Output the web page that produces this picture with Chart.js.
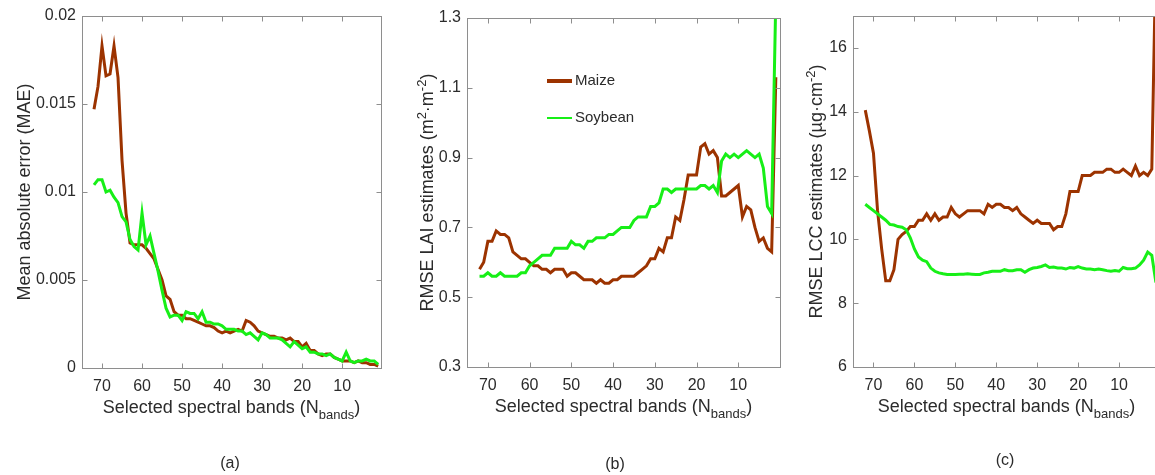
<!DOCTYPE html>
<html>
<head>
<meta charset="utf-8">
<script src="https://cdn.jsdelivr.net/npm/chart.js@4"></script>
<style>
  html, body { margin: 0; padding: 0; background: #fff; overflow: hidden; }
  #wrap { position: relative; width: 1155px; height: 475px; overflow: hidden; background: #fff; }
  #wrap canvas { position: absolute; top: 0; }
</style>
</head>
<body>
<div id="wrap">
  <canvas id="chartA" width="385" height="475" style="left:0px"></canvas>
  <canvas id="chartB" width="400" height="475" style="left:385px"></canvas>
  <canvas id="chartC" width="375" height="475" style="left:790px"></canvas>
</div>
<script>
// Number of selected bands, left to right (axis is reversed)
const bands = [72, 71, 70, 69, 68, 67, 66, 65, 64, 63,
               62, 61, 60, 59, 58, 57, 56, 55, 54, 53,
               52, 51, 50, 49, 48, 47, 46, 45, 44, 43,
               42, 41, 40, 39, 38, 37, 36, 35, 34, 33,
               32, 31, 30, 29, 28, 27, 26, 25, 24, 23,
               22, 21, 20, 19, 18, 17, 16, 15, 14, 13,
               12, 11, 10, 9, 8, 7, 6, 5, 4, 3,
               2, 1];

const xTicks = [70, 60, 50, 40, 30, 20, 10];

// (a) MAE
const maeMaize = [0.0147, 0.0160, 0.0183, 0.0166, 0.0167, 0.0183, 0.0165, 0.0118, 0.0088, 0.0071,
                  0.0070, 0.0070, 0.0070, 0.0068, 0.0065, 0.0062, 0.0056, 0.0050, 0.0041, 0.0039,
                  0.0032, 0.0030, 0.0030, 0.0028, 0.0028, 0.0027, 0.0026, 0.0025, 0.0024, 0.0024,
                  0.0023, 0.0021, 0.0020, 0.0021, 0.0020, 0.0021, 0.0022, 0.0021, 0.0027, 0.0026,
                  0.0024, 0.0021, 0.0020, 0.0019, 0.0018, 0.0018, 0.0017, 0.0017, 0.0016, 0.0017,
                  0.0015, 0.0015, 0.0012, 0.0014, 0.0010, 0.0010, 0.0008, 0.0007, 0.0008, 0.0008,
                  0.0006, 0.0005, 0.0004, 0.0004, 0.0004, 0.0003, 0.0004, 0.0003, 0.0003, 0.0002,
                  0.0002, 0.0001];
const maeSoy = [0.0104, 0.0107, 0.0107, 0.0100, 0.0101, 0.0097, 0.0094, 0.0086, 0.0083, 0.0073,
                0.0069, 0.0067, 0.0088, 0.0070, 0.0075, 0.0065, 0.0055, 0.0044, 0.0034, 0.0029,
                0.0030, 0.0030, 0.0027, 0.0032, 0.0031, 0.0031, 0.0028, 0.0032, 0.0026, 0.0026,
                0.0025, 0.0025, 0.0024, 0.0022, 0.0022, 0.0022, 0.0021, 0.0021, 0.0019, 0.0020,
                0.0018, 0.0016, 0.0020, 0.0019, 0.0017, 0.0017, 0.0017, 0.0016, 0.0014, 0.0012,
                0.0015, 0.0013, 0.0011, 0.0012, 0.0009, 0.0009, 0.0008, 0.0008, 0.0007, 0.0008,
                0.0006, 0.0005, 0.0004, 0.0009, 0.0004, 0.0003, 0.0004, 0.0004, 0.0005, 0.0004,
                0.0004, 0.0002];
const maeTicks = [0, 0.005, 0.01, 0.015, 0.02];

// (b) RMSE LAI
const laiMaize = [0.58, 0.60, 0.66, 0.66, 0.69, 0.68, 0.68, 0.67, 0.63, 0.62,
                  0.61, 0.61, 0.60, 0.59, 0.59, 0.58, 0.58, 0.57, 0.58, 0.58,
                  0.58, 0.56, 0.57, 0.57, 0.56, 0.55, 0.55, 0.55, 0.54, 0.55,
                  0.54, 0.54, 0.55, 0.55, 0.56, 0.56, 0.56, 0.56, 0.57, 0.58,
                  0.59, 0.61, 0.61, 0.64, 0.63, 0.67, 0.67, 0.73, 0.72, 0.78,
                  0.85, 0.85, 0.85, 0.93, 0.94, 0.91, 0.92, 0.90, 0.79, 0.79,
                  0.80, 0.81, 0.82, 0.73, 0.76, 0.75, 0.70, 0.66, 0.67, 0.64,
                  0.63, 1.13];
const laiSoy = [0.56, 0.56, 0.57, 0.56, 0.56, 0.57, 0.56, 0.56, 0.56, 0.56,
                0.57, 0.57, 0.59, 0.60, 0.61, 0.62, 0.62, 0.62, 0.64, 0.64,
                0.64, 0.64, 0.66, 0.65, 0.65, 0.64, 0.66, 0.66, 0.67, 0.67,
                0.67, 0.68, 0.68, 0.69, 0.70, 0.70, 0.70, 0.72, 0.73, 0.73,
                0.73, 0.76, 0.76, 0.77, 0.81, 0.81, 0.80, 0.81, 0.81, 0.81,
                0.81, 0.81, 0.81, 0.82, 0.82, 0.81, 0.82, 0.80, 0.89, 0.91,
                0.90, 0.91, 0.90, 0.91, 0.92, 0.91, 0.90, 0.91, 0.87, 0.76,
                0.74, 1.36];
const laiTicks = [0.3, 0.5, 0.7, 0.9, 1.1, 1.3];

// (c) RMSE LCC
const lccMaize = [14.05, 13.4, 12.7, 10.9, 9.7, 8.7, 8.7, 9.05, 10.0, 10.15,
                  10.25, 10.4, 10.4, 10.6, 10.6, 10.8, 10.6, 10.8, 10.6, 10.7,
                  10.7, 11.0, 10.8, 10.7, 10.8, 10.9, 10.9, 10.9, 10.9, 10.8,
                  11.1, 11.0, 11.1, 11.1, 11.0, 11.0, 10.9, 11.0, 10.8, 10.7,
                  10.6, 10.5, 10.6, 10.5, 10.5, 10.5, 10.3, 10.4, 10.4, 10.8,
                  11.5, 11.5, 11.5, 12.0, 12.0, 12.0, 12.1, 12.1, 12.1, 12.2,
                  12.2, 12.1, 12.1, 12.2, 12.1, 12.0, 12.3, 12.0, 12.1, 12.0,
                  12.2, 19.0];
const lccSoy = [11.1, 11.0, 10.9, 10.8, 10.7, 10.6, 10.47, 10.45, 10.4, 10.38,
                10.3, 10.05, 9.7, 9.45, 9.35, 9.3, 9.1, 9.0, 8.95, 8.92,
                8.9, 8.9, 8.9, 8.91, 8.91, 8.92, 8.91, 8.9, 8.9, 8.95,
                8.97, 9.0, 9.0, 9.0, 9.05, 9.02, 9.02, 9.05, 9.05, 8.97,
                9.05, 9.1, 9.12, 9.15, 9.2, 9.12, 9.13, 9.1, 9.1, 9.07,
                9.12, 9.1, 9.15, 9.1, 9.07, 9.07, 9.05, 9.07, 9.05, 9.02,
                9.0, 9.02, 9.0, 9.12, 9.08, 9.08, 9.1, 9.2, 9.35, 9.6,
                9.5, 8.65];
const lccTicks = [6, 8, 10, 12, 14, 16];

const MAIZE_COLOR = '#9c3300';
const SOY_COLOR = '#17ef17';
const FRAME_COLOR = '#8e8e8e';
const TEXT_COLOR = '#2b2b2b';
const FONT = "'Liberation Sans', Arial, Helvetica, sans-serif";

const xTitle = [['Selected spectral bands (N', ''], ['bands', 'sub'], [')', '']];

function toPoints(values) {
    return values.map((v, i) => ({ x: bands[i], y: v }));
}

function fontFor(kind, size) {
    const s = kind ? Math.round(size * 0.72) : size;
    return s + 'px ' + FONT;
}

// Draws text with sub/superscripts, centred on x
function drawRich(ctx, parts, x, y, size) {
    const widths = parts.map(p => {
        ctx.font = fontFor(p[1], size);
        return ctx.measureText(p[0]).width;
    });
    let cx = x - widths.reduce((a, b) => a + b, 0) / 2;
    parts.forEach((p, i) => {
        ctx.font = fontFor(p[1], size);
        const dy = p[1] === 'sub' ? 6 : (p[1] === 'sup' ? -7 : 0);
        ctx.fillText(p[0], cx, y + dy);
        cx += widths[i];
    });
}

// Box, inward ticks, titles, panel letter and legend
const panelDeco = {
    id: 'panelDeco',
    afterDraw(chart, args, opts) {
        const ctx = chart.ctx;
        const a = chart.chartArea;
        const xs = chart.scales.x;
        const ys = chart.scales.y;
        const L = Math.round(a.left) + 0.5, R = Math.round(a.right) + 0.5;
        const T = Math.round(a.top) + 0.5, B = Math.round(a.bottom) + 0.5;
        ctx.save();
        ctx.strokeStyle = FRAME_COLOR;
        ctx.lineWidth = 1;
        ctx.strokeRect(L, T, R - L, B - T);
        ctx.beginPath();
        xTicks.forEach(v => {
            const px = Math.round(xs.getPixelForValue(v)) + 0.5;
            ctx.moveTo(px, B); ctx.lineTo(px, B - 5);
            ctx.moveTo(px, T); ctx.lineTo(px, T + 5);
        });
        opts.yTicks.forEach(v => {
            const py = Math.round(ys.getPixelForValue(v)) + 0.5;
            ctx.moveTo(L, py); ctx.lineTo(L + 5, py);
            ctx.moveTo(R, py); ctx.lineTo(R - 5, py);
        });
        ctx.stroke();

        ctx.fillStyle = TEXT_COLOR;
        ctx.textBaseline = 'alphabetic';
        ctx.textAlign = 'left';
        drawRich(ctx, xTitle, (a.left + a.right) / 2, a.bottom + 45, 18);

        ctx.save();
        ctx.translate(opts.yTitleX, (a.top + a.bottom) / 2);
        ctx.rotate(-Math.PI / 2);
        drawRich(ctx, opts.yTitle, 0, 0, 18);
        ctx.restore();

        ctx.font = '16px ' + FONT;
        ctx.textAlign = 'center';
        ctx.fillText(opts.letter[0], opts.letter[1], opts.letter[2]);

        if (opts.legend) {
            const lx = a.left + 80;
            chart.data.datasets.forEach((ds, i) => {
                const ly = a.top + 63 + i * 37;
                ctx.strokeStyle = ds.borderColor;
                ctx.lineWidth = i === 0 ? 4 : 2;
                ctx.beginPath();
                ctx.moveTo(lx, ly); ctx.lineTo(lx + 25, ly);
                ctx.stroke();
                ctx.fillStyle = TEXT_COLOR;
                ctx.font = '15px ' + FONT;
                ctx.textAlign = 'left';
                ctx.textBaseline = 'middle';
                ctx.fillText(ds.label, lx + 28, ly);
            });
        }
        ctx.restore();
    }
};

function makePanel(id, p) {
    return new Chart(document.getElementById(id), {
        type: 'line',
        data: {
            datasets: [
                { label: 'Maize', data: toPoints(p.maize), borderColor: MAIZE_COLOR, borderWidth: 3,
                  pointRadius: 0, tension: 0, fill: false, order: 2 },
                { label: 'Soybean', data: toPoints(p.soy), borderColor: SOY_COLOR, borderWidth: 3,
                  pointRadius: 0, tension: 0, fill: false, order: 1 }
            ]
        },
        options: {
            responsive: false,
            animation: false,
            layout: { padding: { top: p.top, right: p.right, left: 0, bottom: 0 } },
            plugins: {
                legend: { display: false },
                tooltip: { enabled: false },
                panelDeco: { yTicks: p.yTicks, yTitle: p.yTitle, yTitleX: p.yTitleX, letter: p.letter, legend: p.legend }
            },
            scales: {
                x: {
                    type: 'linear',
                    reverse: true,
                    min: p.xMin,
                    max: 75,
                    grid: { display: false, drawTicks: false },
                    border: { display: false },
                    ticks: { font: { family: FONT, size: 16 }, color: TEXT_COLOR, padding: 9, maxRotation: 0, autoSkip: false },
                    afterBuildTicks: s => { s.ticks = xTicks.map(v => ({ value: v })); },
                    afterFit: s => { s.height = 475 - p.bottom; }
                },
                y: {
                    min: p.yTicks[0],
                    max: p.yMax,
                    grid: { display: false, drawTicks: false },
                    border: { display: false },
                    ticks: { font: { family: FONT, size: 16 }, color: TEXT_COLOR, padding: 6, callback: v => String(v) },
                    afterBuildTicks: s => { s.ticks = p.yTicks.map(v => ({ value: v })); },
                    afterFit: s => { s.width = p.left; }
                }
            }
        },
        plugins: [panelDeco]
    });
}

makePanel('chartA', {
    maize: maeMaize, soy: maeSoy, yTicks: maeTicks, yMax: 0.02, xMin: 0.3,
    left: 82, right: 4, top: 16, bottom: 368,
    yTitle: [['Mean absolute error (MAE)', '']], yTitleX: 30,
    letter: ['(a)', 230, 468], legend: false
});

makePanel('chartB', {
    maize: laiMaize, soy: laiSoy, yTicks: laiTicks, yMax: 1.3, xMin: 0,
    left: 82, right: 5, top: 18, bottom: 367,
    yTitle: [['RMSE LAI estimates (m', ''], ['2', 'sup'], ['\u00b7m', ''], ['-2', 'sup'], [')', '']], yTitleX: 48,
    letter: ['(b)', 230, 469], legend: true
});

makePanel('chartC', {
    maize: lccMaize, soy: lccSoy, yTicks: lccTicks, yMax: 17, xMin: 0,
    left: 63, right: 5, top: 16, bottom: 367,
    yTitle: [['RMSE LCC estimates (\u00b5g\u00b7cm', ''], ['-2', 'sup'], [')', '']], yTitleX: 32,
    letter: ['(c)', 215, 465], legend: false
});
</script>
</body>
</html>
